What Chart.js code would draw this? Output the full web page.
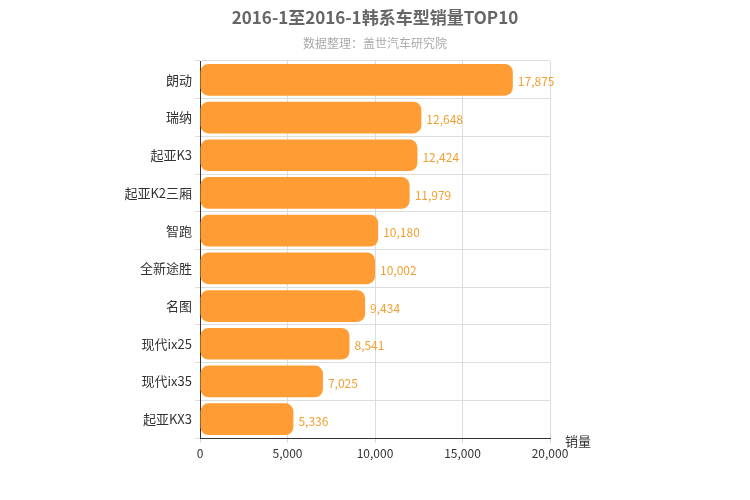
<!DOCTYPE html>
<html><head><meta charset="utf-8">
<script src="https://cdn.jsdelivr.net/npm/chart.js@4"></script>
<style>body{margin:0;background:#fff}#w{width:750px;height:500px}</style>
</head><body><div id="w"><canvas id="c"></canvas></div>
<script>
const categories=["朗动","瑞纳","起亚K3","起亚K2三厢","智跑","全新途胜","名图","现代ix25","现代ix35","起亚KX3"];
const sales=[17875,12648,12424,11979,10180,10002,9434,8541,7025,5336];
const xTicks=[0,5000,10000,15000,20000];
const titleText="2016-1至2016-1韩系车型销量TOP10";
const subtitleText="数据整理：盖世汽车研究院";
const F='"Microsoft YaHei","Noto Sans CJK SC",sans-serif';
const deco={id:'deco',afterDraw(ch){const c=ch.ctx;c.save();
c.textAlign='center';c.fillStyle='#666';c.font='bold 17px '+F;c.fillText(titleText,375,24);
c.fillStyle='#aaa';c.font='12px '+F;c.fillText(subtitleText,375,48);
c.fillStyle='#333';c.font='13px '+F;c.textAlign='left';c.fillText('销量',565,446);
const m=ch.getDatasetMeta(0);c.fillStyle='#f0a030';c.font='12px '+F;c.textBaseline='middle';
m.data.forEach((b,i)=>c.fillText(sales[i].toLocaleString('en-US'),b.x+5,b.y+2));
c.restore();}};
new Chart(document.getElementById('c'),{type:'bar',
data:{labels:categories,datasets:[{data:sales,backgroundColor:'#ff9c33',borderRadius:8,borderSkipped:false,categoryPercentage:1,barPercentage:0.84}]},
options:{indexAxis:'y',responsive:true,maintainAspectRatio:false,animation:false,
layout:{padding:{left:0,right:200,top:61,bottom:37}},
plugins:{legend:{display:false},tooltip:{enabled:false}},
scales:{
x:{min:0,max:20000,afterBuildTicks(s){s.ticks=xTicks.map(v=>({value:v}));},afterFit(s){s.height=25;},
grid:{color:'#ddd',drawTicks:true,tickLength:5},border:{color:'#333'},
ticks:{color:'#333',font:{size:12,family:F},callback:v=>v.toLocaleString('en-US')}},
y:{afterFit(s){s.width=200;},grid:{color:'#ddd',offset:true,tickLength:5},border:{color:'#333'},
ticks:{color:'#333',font:{size:13,family:F}}}}},
plugins:[deco]});
</script></body></html>
